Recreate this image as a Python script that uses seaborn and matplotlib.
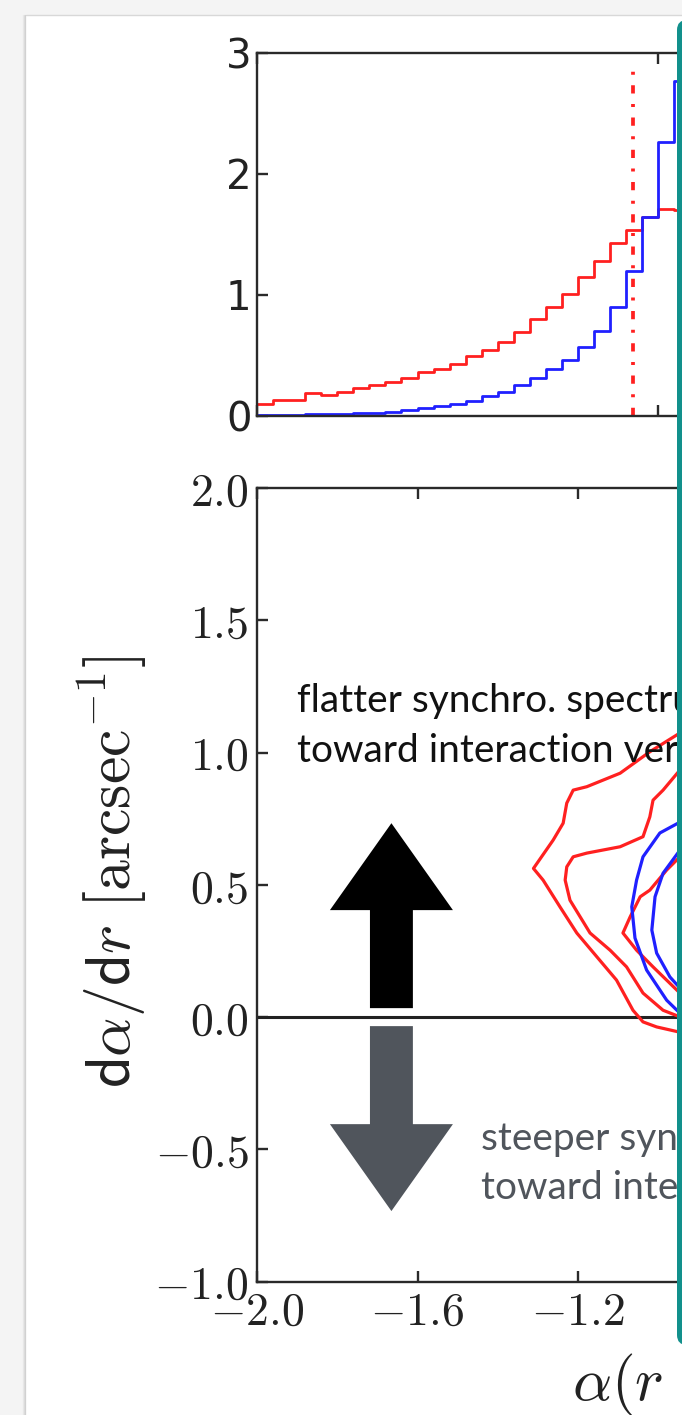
import numpy as np
import matplotlib
matplotlib.use("Agg")
import matplotlib.pyplot as plt
import matplotlib.patches as mpatches
import matplotlib.transforms as mtransforms
from matplotlib.lines import Line2D
from matplotlib.ticker import FixedLocator, FuncFormatter
import seaborn as sns

# ---------------- data ----------------
# histogram bins of the spectral index alpha (width 0.04)
bin_edges = [-2.00, -1.96, -1.92, -1.88, -1.84, -1.80, -1.76, -1.72, -1.68,
             -1.64, -1.60, -1.56, -1.52, -1.48, -1.44, -1.40, -1.36, -1.32,
             -1.28, -1.24, -1.20, -1.16, -1.12, -1.08, -1.04, -1.00, -0.96,
             -0.92]
hist_red = [0.10, 0.13, 0.13, 0.19, 0.17, 0.20, 0.23, 0.25, 0.28, 0.31,
            0.36, 0.39, 0.43, 0.49, 0.54, 0.61, 0.69, 0.80, 0.90, 1.01,
            1.15, 1.28, 1.43, 1.54, 1.64, 1.71, 1.70]
hist_blue = [0.003, 0.003, 0.005, 0.01, 0.01, 0.015, 0.02, 0.025, 0.03,
             0.045, 0.06, 0.08, 0.10, 0.12, 0.16, 0.20, 0.25, 0.31, 0.39,
             0.46, 0.57, 0.70, 0.90, 1.20, 1.64, 2.26, 2.77]
alpha_ref = -1.063

# density contours in the (alpha, d alpha / d r) plane
red_c1_x = [-0.90, -0.946, -1.021, -1.095, -1.178, -1.212, -1.228, -1.237,
            -1.262, -1.311, -1.287, -1.245, -1.203, -1.153, -1.104, -1.063,
            -1.038, -1.004, -0.946, -0.90]
red_c1_y = [1.10, 1.074, 1.003, 0.922, 0.871, 0.858, 0.809, 0.733, 0.669,
            0.562, 0.518, 0.417, 0.318, 0.228, 0.140, 0.026, -0.018, -0.037,
            -0.057, -0.065]
red_c2_x = [-0.90, -0.946, -0.988, -1.013, -1.021, -1.038, -1.095, -1.178,
            -1.212, -1.228, -1.232, -1.220, -1.170, -1.120, -1.079, -1.038,
            -0.988, -0.946, -0.90]
red_c2_y = [1.00, 0.934, 0.858, 0.820, 0.757, 0.682, 0.644, 0.620, 0.606,
            0.568, 0.518, 0.442, 0.318, 0.253, 0.190, 0.091, 0.026, 0.001,
            -0.01]
red_c3_x = [-0.90, -0.946, -0.979, -1.021, -1.045, -1.070, -1.088, -1.054,
            -1.013, -0.946, -0.90]
red_c3_y = [0.66, 0.606, 0.556, 0.480, 0.455, 0.379, 0.318, 0.253, 0.190,
            0.091, 0.05]
blue_c1_x = [-0.90, -0.946, -0.996, -1.038, -1.054, -1.066, -1.058, -1.029,
             -0.979, -0.946, -0.90]
blue_c1_y = [0.76, 0.737, 0.696, 0.606, 0.518, 0.417, 0.299, 0.178, 0.064,
             0.015, -0.01]
blue_c2_x = [-0.90, -0.946, -0.988, -1.008, -1.016, -1.004, -0.971, -0.946,
             -0.90]
blue_c2_y = [0.67, 0.631, 0.544, 0.455, 0.329, 0.242, 0.152, 0.110, 0.08]

top_yticks = [0, 1, 2, 3]
top_xticks = [-2.0, -1.0, 0.0]
bot_xticks = [-2.0, -1.6, -1.2, -0.8, -0.4]
bot_yticks = [-1.0, -0.5, 0.0, 0.5, 1.0, 1.5, 2.0]

# ---------------- style ----------------
sns.set_theme(style="white")
plt.rcParams["font.family"] = ["DejaVu Sans"]
plt.rcParams["mathtext.fontset"] = "cm"

W, H = 682, 1415
fig = plt.figure(figsize=(W / 100, H / 100), dpi=100)
fig.patch.set_facecolor("#f4f4f4")
ident = mtransforms.IdentityTransform()

# white page with a soft left shadow
fig.patches.append(mpatches.Rectangle((26, 0), W, H - 15, transform=ident,
                                      facecolor="white", edgecolor="none", zorder=-5))
for i, a in enumerate([0.35, 0.2, 0.1]):
    fig.lines.append(Line2D([25 - i, 25 - i], [0, H - 15], transform=ident,
                            color="#9a9a9a", alpha=a, lw=1.0, zorder=-4))
fig.lines.append(Line2D([26, W], [H - 15, H - 15], transform=ident,
                        color="#d8d8d8", lw=1.0, zorder=-4))

x0, x1 = -2.0, -0.5
px_unit = 401.25
ax_w = (x1 - x0) * px_unit / W
ax_top = fig.add_axes([257 / W, 1 - 415.7 / H, ax_w, (415.7 - 53) / H])
ax_bot = fig.add_axes([257 / W, 1 - 1281.7 / H, ax_w, (1281.7 - 488) / H])

spine_c = "#2a2a2a"
for ax in (ax_top, ax_bot):
    for s in ax.spines.values():
        s.set_color(spine_c)
        s.set_linewidth(1.7)
    ax.tick_params(direction="in", length=8, width=1.7, color=spine_c,
                   top=True, right=True, bottom=True, left=True,
                   labelcolor="#222222")
    ax.set_facecolor("white")
    ax.set_xlim(x0, x1)

# ---------------- top panel: histograms ----------------
centers = [(a + b) / 2 for a, b in zip(bin_edges[:-1], bin_edges[1:])]
sns.histplot(x=centers, weights=hist_red, bins=bin_edges, element="step",
             fill=False, color="#ff2020", linewidth=2.0, ax=ax_top)
sns.histplot(x=centers, weights=hist_blue, bins=bin_edges, element="step",
             fill=False, color="#2020ff", linewidth=2.0, ax=ax_top)
ax_top.axvline(alpha_ref, ymin=0, ymax=0.97, color="#ff2020", lw=2.7,
               linestyle=(0, (2.2, 2.8, 0.8, 2.8)))
ax_top.set_ylim(0, 3)
ax_top.set_xlim(x0, x1)
ax_top.xaxis.set_major_locator(FixedLocator(top_xticks))
ax_top.yaxis.set_major_locator(FixedLocator(top_yticks))
ax_top.tick_params(axis="x", labelbottom=False)
ax_top.tick_params(axis="y", labelsize=29, pad=4)
ax_top.set_xlabel("")
ax_top.set_ylabel("")

# ---------------- bottom panel: contours ----------------
ax_bot.axhline(0, color="#222222", lw=2.2, zorder=1)
for cx, cy in [(red_c1_x, red_c1_y), (red_c2_x, red_c2_y), (red_c3_x, red_c3_y)]:
    sns.lineplot(x=cx, y=cy, sort=False, estimator=None, color="#ff2020",
                 lw=2.3, ax=ax_bot)
for cx, cy in [(blue_c1_x, blue_c1_y), (blue_c2_x, blue_c2_y)]:
    sns.lineplot(x=cx, y=cy, sort=False, estimator=None, color="#2020ff",
                 lw=2.3, ax=ax_bot)

# direction arrows
ax_bot.add_patch(mpatches.FancyArrow(-1.665, 0.034, 0, 0.699, width=0.107,
                                     head_width=0.3065, head_length=0.3285,
                                     length_includes_head=True,
                                     color="black", lw=0, zorder=3))
ax_bot.add_patch(mpatches.FancyArrow(-1.665, -0.034, 0, -0.699, width=0.107,
                                     head_width=0.3065, head_length=0.3285,
                                     length_includes_head=True,
                                     color="#50555c", lw=0, zorder=3))

ax_bot.set_xlim(x0, x1)
ax_bot.set_ylim(-1.0, 2.0)
ax_bot.xaxis.set_major_locator(FixedLocator(bot_xticks))
ax_bot.yaxis.set_major_locator(FixedLocator(bot_yticks))
math_fmt = FuncFormatter(lambda v, _: rf"${v:.1f}$")
ax_bot.xaxis.set_major_formatter(math_fmt)
ax_bot.yaxis.set_major_formatter(math_fmt)
ax_bot.tick_params(axis="both", labelsize=33, pad=6)
ax_bot.set_xlabel("")
ax_bot.set_ylabel(r"$\mathsf{d}\alpha/\mathsf{d}r\ [\mathrm{arcsec}^{-1}]$",
                  fontsize=44.5, color="#222222", va="center")
ax_bot.yaxis.set_label_coords((112 - 257) / (ax_w * W), (1281.7 - 872) / (1281.7 - 488))

fig.text(572 / W, 1 - 1400 / H, r"$\alpha(r\;\;=\;0)$", fontsize=44,
         color="#222222", ha="left", va="baseline")

# annotations
txt_kw = dict(fontfamily="Lato", fontsize=28, ha="left", va="baseline")
fig.text(297 / W, 1 - 712 / H, "flatter synchro. spectrum", color="#111111", **txt_kw)
fig.text(297 / W, 1 - 762 / H, "toward interaction vertex", color="#111111", **txt_kw)
fig.text(481 / W, 1 - 1150 / H, "steeper synchro. spectrum", color="#50555c", **txt_kw)
fig.text(481 / W, 1 - 1199 / H, "toward interaction vertex", color="#50555c", **txt_kw)

# teal side panel
fig.patches.append(mpatches.FancyBboxPatch((677, H - 1345), 60, 1325,
                                           boxstyle="round,pad=0,rounding_size=10",
                                           transform=ident, facecolor="#12908c",
                                           edgecolor="none", zorder=10))

fig.savefig("out.png", dpi=100)
